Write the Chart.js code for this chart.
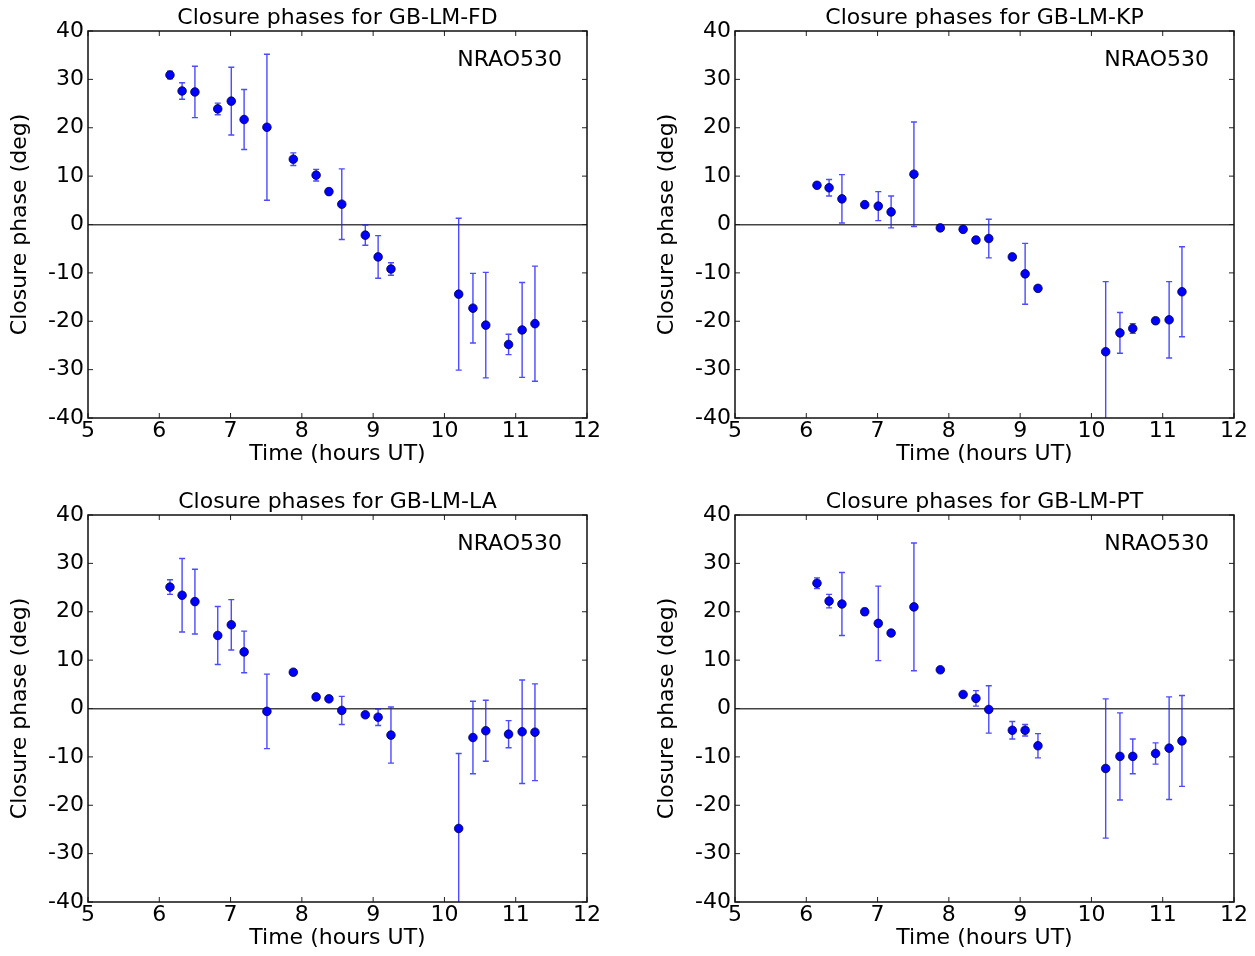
<!DOCTYPE html>
<html>
<head>
<meta charset="utf-8">
<script src="https://cdn.jsdelivr.net/npm/chart.js@4.4.1/dist/chart.umd.min.js"></script>
<style>
    html, body { margin: 0; padding: 0; background: #fff; overflow: hidden; }
    canvas { position: absolute; }
</style>
</head>
<body>
<canvas id="fdChart" width="608" height="472" style="left:0px; top:0px;"></canvas>
<canvas id="kpChart" width="608" height="472" style="left:647px; top:0px;"></canvas>
<canvas id="laChart" width="608" height="472" style="left:0px; top:484px;"></canvas>
<canvas id="ptChart" width="608" height="472" style="left:647px; top:484px;"></canvas>
<script>
// observation times (hours UT), same for every triangle
const times = [6.15, 6.32, 6.50, 6.82, 7.01, 7.19, 7.51, 7.88, 8.20, 8.38, 8.56, 8.89, 9.07, 9.25, 10.20, 10.40, 10.58, 10.90, 11.09, 11.27];

const fdPhase = [30.9, 27.6, 27.4, 23.9, 25.5, 21.7, 20.1, 13.5, 10.2, 6.8, 4.2, -2.2, -6.7, -9.2, -14.4, -17.3, -20.8, -24.8, -21.8, -20.5];
const fdErr = [0.8, 1.7, 5.3, 1.2, 7.0, 6.2, 15.1, 1.3, 1.2, 0.6, 7.3, 2.1, 4.4, 1.3, 15.7, 7.2, 10.9, 2.1, 9.8, 11.9];

const kpPhase = [8.1, 7.6, 5.3, 4.1, 3.8, 2.6, 10.4, -0.7, -1.0, -3.2, -2.9, -6.7, -10.2, -13.2, -26.3, -22.4, -21.5, -19.9, -19.7, -13.9];
const kpErr = [0.5, 1.7, 5.0, 0.4, 3.0, 3.3, 10.8, 0.5, 0.4, 0.6, 4.0, 0.5, 6.3, 0.5, 14.5, 4.2, 1.0, 0.6, 7.9, 9.3];

const laPhase = [25.1, 23.4, 22.1, 15.1, 17.3, 11.7, -0.6, 7.5, 2.4, 2.0, -0.4, -1.3, -1.8, -5.5, -24.8, -6.0, -4.6, -5.3, -4.8, -4.9];
const laErr = [1.5, 7.6, 6.7, 6.0, 5.2, 4.3, 7.7, 0.5, 0.3, 0.3, 2.9, 0.5, 1.7, 5.8, 15.5, 7.5, 6.3, 2.8, 10.7, 10.0];

const ptPhase = [25.9, 22.2, 21.6, 20.0, 17.6, 15.6, 21.0, 8.0, 2.9, 2.1, -0.2, -4.5, -4.5, -7.7, -12.4, -9.9, -9.9, -9.3, -8.2, -6.7];
const ptErr = [1.1, 1.4, 6.5, 0.7, 7.7, 0.4, 13.2, 0.4, 0.4, 1.6, 4.9, 1.8, 1.2, 2.5, 14.4, 9.0, 3.6, 2.2, 10.6, 9.4];

const xTicks = [5, 6, 7, 8, 9, 10, 11, 12];
const yTicks = [-40, -30, -20, -10, 0, 10, 20, 30, 40];
const sourceName = 'NRAO530';

const FONT = 'DejaVu Sans';
const FSIZE = 22;

// error bars, frame, inward ticks and source label
function makePanelPlugin(errors) {
    return {
        id: 'panelExtras',
        beforeDatasetsDraw(chart) {
            const ctx = chart.ctx, area = chart.chartArea;
            const xs = chart.scales.x, ys = chart.scales.y;
            const pts = chart.data.datasets[0].data;
            ctx.save();
            ctx.beginPath();
            ctx.rect(area.left, area.top, area.right - area.left, area.bottom - area.top);
            ctx.clip();
            ctx.strokeStyle = 'rgba(30, 30, 255, 0.8)';
            ctx.lineWidth = 1.4;
            pts.forEach((p, i) => {
                const px = xs.getPixelForValue(p.x);
                const top = ys.getPixelForValue(p.y + errors[i]);
                const bot = ys.getPixelForValue(p.y - errors[i]);
                ctx.beginPath();
                ctx.moveTo(px, top); ctx.lineTo(px, bot);
                ctx.moveTo(px - 3, top); ctx.lineTo(px + 3, top);
                ctx.moveTo(px - 3, bot); ctx.lineTo(px + 3, bot);
                ctx.stroke();
            });
            ctx.restore();
        },
        afterDraw(chart) {
            const ctx = chart.ctx, area = chart.chartArea;
            const xs = chart.scales.x, ys = chart.scales.y;
            ctx.save();
            ctx.strokeStyle = '#222';
            ctx.lineWidth = 1;
            ctx.beginPath();
            xTicks.forEach(v => {
                const px = xs.getPixelForValue(v);
                ctx.moveTo(px, area.bottom); ctx.lineTo(px, area.bottom - 5);
                ctx.moveTo(px, area.top); ctx.lineTo(px, area.top + 5);
            });
            yTicks.forEach(v => {
                const py = ys.getPixelForValue(v);
                ctx.moveTo(area.left, py); ctx.lineTo(area.left + 5, py);
                ctx.moveTo(area.right, py); ctx.lineTo(area.right - 5, py);
            });
            ctx.stroke();
            ctx.lineWidth = 1.5;
            ctx.strokeStyle = '#111';
            ctx.strokeRect(area.left, area.top, area.right - area.left, area.bottom - area.top);
            ctx.fillStyle = '#000';
            ctx.font = FSIZE + 'px "' + FONT + '"';
            ctx.textAlign = 'right';
            ctx.textBaseline = 'middle';
            ctx.fillText(sourceName, area.right - 25, area.top + 29);
            ctx.restore();
        }
    };
}

function makeChart(canvasId, title, phases, errors) {
    const ctx = document.getElementById(canvasId).getContext('2d');
    return new Chart(ctx, {
        type: 'scatter',
        data: {
            datasets: [{
                label: title,
                data: times.map((t, i) => ({x: t, y: phases[i]})),
                backgroundColor: '#0000ff',
                borderColor: '#000044',
                borderWidth: 0.8,
                pointRadius: 4.3,
                pointHoverRadius: 4.3
            }]
        },
        options: {
            responsive: false,
            animation: false,
            devicePixelRatio: 1,
            layout: { padding: { left: 0, right: 21, top: 0, bottom: 0 } },
            plugins: {
                legend: { display: false },
                tooltip: { enabled: false },
                title: {
                    display: true,
                    text: title,
                    fullSize: false,
                    color: '#000',
                    font: { family: FONT, size: FSIZE, weight: 'normal', lineHeight: 1.2 },
                    padding: { top: 4.6, bottom: 0 }
                }
            },
            scales: {
                x: {
                    type: 'linear',
                    min: 5, max: 12,
                    afterFit(scale) { scale.height = 54; },
                    afterBuildTicks(scale) { scale.ticks = xTicks.map(v => ({value: v})); },
                    grid: { display: false, drawTicks: false },
                    border: { display: false },
                    ticks: {
                        color: '#000', padding: 0, maxRotation: 0, autoSkip: false,
                        font: { family: FONT, size: FSIZE, lineHeight: 1.2 }
                    },
                    title: {
                        display: true, text: 'Time (hours UT)', color: '#000',
                        font: { family: FONT, size: FSIZE, lineHeight: 1.2 },
                        padding: { top: 0, bottom: 4.8 }
                    }
                },
                y: {
                    type: 'linear',
                    min: -40, max: 40,
                    afterFit(scale) { scale.width = 88; },
                    afterBuildTicks(scale) { scale.ticks = yTicks.map(v => ({value: v})); },
                    grid: {
                        drawTicks: false,
                        color: c => (c.tick && c.tick.value === 0) ? '#444' : 'rgba(0,0,0,0)',
                        lineWidth: c => (c.tick && c.tick.value === 0) ? 1.6 : 0
                    },
                    border: { display: false },
                    ticks: {
                        color: '#000', padding: 4, autoSkip: false,
                        font: { family: FONT, size: FSIZE, lineHeight: 1.2 }
                    },
                    title: {
                        display: true, text: 'Closure phase (deg)', color: '#000',
                        font: { family: FONT, size: FSIZE, lineHeight: 1.2 },
                        padding: { top: 6.8, bottom: 0 }
                    }
                }
            }
        },
        plugins: [makePanelPlugin(errors)]
    });
}

document.addEventListener('DOMContentLoaded', function () {
    makeChart('fdChart', 'Closure phases for GB-LM-FD', fdPhase, fdErr);
    makeChart('kpChart', 'Closure phases for GB-LM-KP', kpPhase, kpErr);
    makeChart('laChart', 'Closure phases for GB-LM-LA', laPhase, laErr);
    makeChart('ptChart', 'Closure phases for GB-LM-PT', ptPhase, ptErr);
});
</script>
</body>
</html>
